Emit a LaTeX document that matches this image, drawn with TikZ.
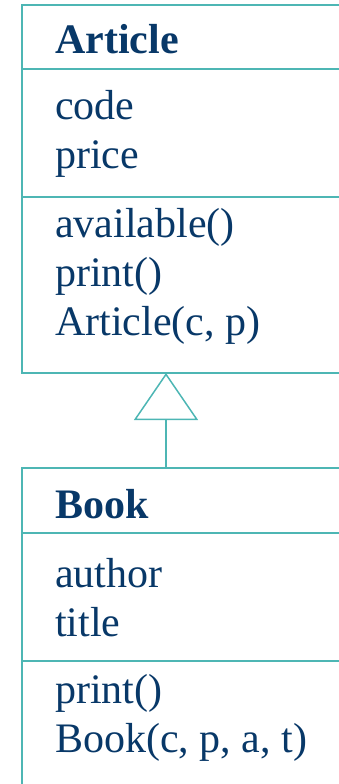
\documentclass[tikz,border=0pt]{standalone}
\usepackage{fontspec}
\setmainfont{Liberation Serif}
\usetikzlibrary{arrows.meta, positioning}
\definecolor{umlline}{RGB}{77,182,180}
\definecolor{umltext}{RGB}{8,56,104}

\begin{document}
\begin{tikzpicture}[x=1pt, y=-1pt,
			part/.style={draw=umlline, line width=1.5pt, rectangle, minimum width=400pt, inner sep=0pt, outer sep=0pt},
			member/.style={anchor=base west, inner sep=0pt, text=umltext, font=\fontsize{42}{49}\selectfont},
			classname/.style={member, font=\fontsize{42}{49}\selectfont\bfseries},
			inherit/.style={draw=umlline, line width=1.5pt, -{Triangle[open, length=47pt, width=64pt]}}]
			
			\useasboundingbox (0,0) rectangle (339,784);
			\clip (0,0) rectangle (339,784);
			
			% Article class
			\node[part, minimum height=64pt, anchor=north west] (articlehead) at (22,5) {};
			\node[part, minimum height=128pt, below=0pt of articlehead] (articleattr) {};
			\node[part, minimum height=176pt, below=0pt of articleattr] (articleops) {};
			
			\node[classname] (articlename) at (55,53) {Article};
			\node[member] (code) at (55,119) {code};
			\node[member] (price) at (55,168) {price};
			\node[member] (available) at (55,237) {available()};
			\node[member] (articleprint) at (55,286) {print()};
			\node[member] (articlector) at (55,335) {Article(c, p)};
			
			% Book class
			\node[part, minimum height=65pt, anchor=north west] (bookhead) at (22,468) {};
			\node[part, minimum height=128pt, below=0pt of bookhead] (bookattr) {};
			\node[part, minimum height=176pt, below=0pt of bookattr] (bookops) {};
			
			\node[classname] (bookname) at (55,518) {Book};
			\node[member] (author) at (55,587) {author};
			\node[member] (title) at (55,636) {title};
			\node[member] (bookprint) at (55,703) {print()};
			\node[member] (bookctor) at (55,752) {Book(c, p, a, t)};
			
			% Inheritance
			\coordinate (apex) at ([xshift=144pt]articleops.south west);
			\draw[inherit] (apex |- bookhead.north) -- (apex);
		\end{tikzpicture}
\end{document}
